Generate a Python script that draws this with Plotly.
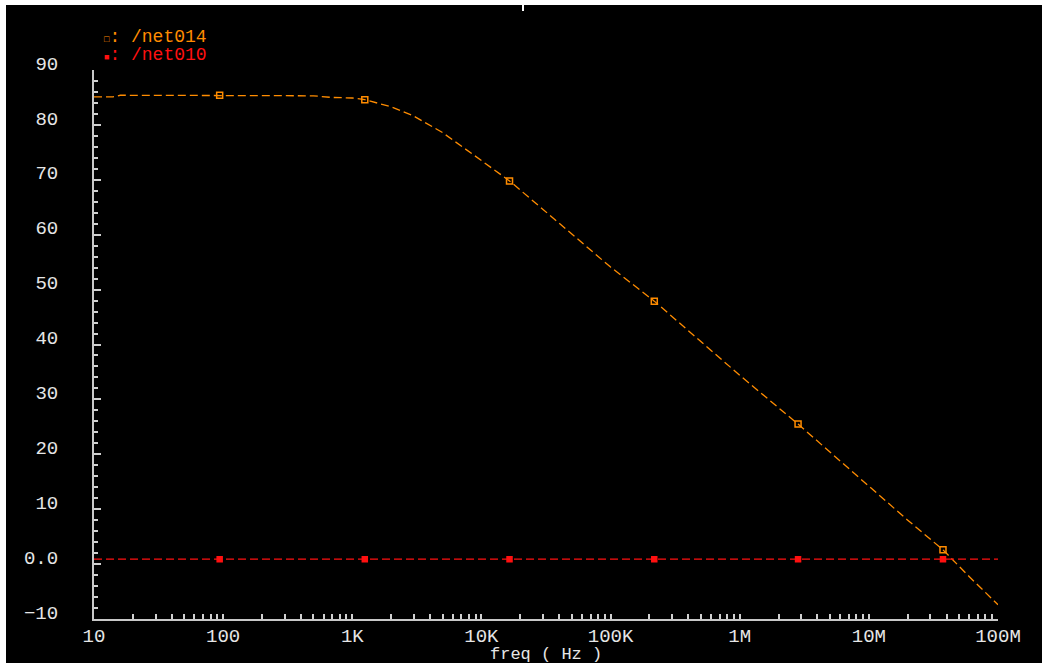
import plotly.graph_objects as go

# ---- data ----
freq_014 = [10, 14, 16, 20, 50, 94, 200, 500, 700, 1000, 1250, 2000, 3000, 5000,
            10000, 16500, 30000, 100000, 218000, 1000000, 2830000, 10000000,
            20000000, 37500000, 60000000, 100000000]
net014_db = [85.1, 85.1, 85.4, 85.4, 85.4, 85.4, 85.4, 85.3, 85.0, 84.9, 84.6, 83.3,
             81.6, 78.6, 73.5, 69.8, 64.6, 54.1, 47.9, 34.4, 25.5, 14.2,
             8.0, 2.6, -2.3, -7.4]

freq_010 = [10, 94, 1250, 16500, 218000, 2830000, 37500000, 100000000]
net010_db = [0.9, 0.9, 0.9, 0.9, 0.9, 0.9, 0.9, 0.9]

marker_freqs = [94, 1250, 16500, 218000, 2830000, 37500000]

names = ["/net014", "/net010"]
colors = ["#ff8c00", "#ff1010"]

x_tickvals = [10, 100, 1e3, 1e4, 1e5, 1e6, 1e7, 1e8]
x_ticktext = ["10", "100", "1K", "10K", "100K", "1M", "10M", "100M"]
y_tickvals = [-10, 0, 10, 20, 30, 40, 50, 60, 70, 80, 90]
y_ticktext = ["\u221210", "0.0", "10", "20", "30", "40", "50", "60", "70", "80", "90"]
x_title = "freq ( Hz )"

# ---- figure ----
W, H = 1042, 669
L, R, T, B = 94, 44, 70, 50
pw, ph = W - L - R, H - T - B

def px_to_paper(px, py):
    return (px - L) / pw, (H - B - py) / ph

fig = go.Figure()

series = [(freq_014, net014_db), (freq_010, net010_db)]
msyms = ["square-open", "square"]
msizes = [6, 5]
for (fx, fy), name, col, sym, ms in zip(series, names, colors, msyms, msizes):
    fig.add_trace(go.Scatter(x=fx, y=fy, mode="lines", name=name,
                             line=dict(color=col, width=1.3, dash="8px,4px"),
                             showlegend=False))
    mx = [f for f in fx if f in marker_freqs]
    my = [v for f, v in zip(fx, fy) if f in marker_freqs]
    fig.add_trace(go.Scatter(x=mx, y=my, mode="markers", name=name,
                             marker=dict(symbol=sym, size=ms, color=col,
                                         line=dict(color=col, width=1.5)),
                             showlegend=False))

mono = "Liberation Mono, DejaVu Sans Mono, monospace"
tick_font = dict(family=mono, size=19, color="#e6e6e6")

fig.update_xaxes(type="log", range=[1, 8], tickmode="array", tickvals=x_tickvals,
                 ticktext=x_ticktext, ticks="inside", ticklen=5, tickwidth=1.5,
                 tickcolor="#d0d0d0", showline=True, linecolor="#c8c8c8", linewidth=2,
                 showgrid=False, zeroline=False, tickfont=tick_font, ticklabelstandoff=-2,
                 minor=dict(tickvals=[m * 10 ** e for e in range(1, 8) for m in range(2, 10)],
                            ticks="inside", ticklen=5, tickwidth=1.5, tickcolor="#d0d0d0",
                            showgrid=False))
fig.update_yaxes(range=[-10, 90], tickmode="array", tickvals=y_tickvals, ticktext=y_ticktext,
                 ticks="inside", ticklen=7, tickwidth=1.5, tickcolor="#d0d0d0",
                 showline=True, linecolor="#c8c8c8", linewidth=2, showgrid=False,
                 zeroline=False, tickfont=tick_font, ticklabelstandoff=30, ticklabelshift=-7,
                 minor=dict(dtick=2, ticks="inside", ticklen=4, tickwidth=1.5,
                            tickcolor="#d0d0d0", showgrid=False))

# black panel with thin white border like the screenshot
x0, y0 = px_to_paper(6, 663)
x1, y1 = px_to_paper(W, 5)
shapes = [dict(type="rect", xref="paper", yref="paper", x0=x0, y0=y0, x1=x1, y1=y1,
               fillcolor="black", line=dict(width=0), layer="below")]
tx, ty0 = px_to_paper(523, 5)
_, ty1 = px_to_paper(523, 11)
shapes.append(dict(type="line", xref="paper", yref="paper", x0=tx, x1=tx, y0=ty0, y1=ty1,
                   line=dict(color="white", width=2)))

legend_glyphs = ["\u25a1", "\u25a0"]
annotations = []
for i, (name, col, g) in enumerate(zip(names, colors, legend_glyphs)):
    ax, ay = px_to_paper(102, 37 + 18 * i)
    annotations.append(dict(xref="paper", yref="paper", x=ax, y=ay, xanchor="left",
                            yanchor="middle", showarrow=False,
                            text=f"<span style='font-size:9px'>{g}</span>: {name}",
                            font=dict(family=mono, size=18, color=col)))

# x-axis title
axx, axy = px_to_paper(546, 654)
annotations.append(dict(xref="paper", yref="paper", x=axx, y=axy, xanchor="center",
                        yanchor="middle", showarrow=False, text=x_title,
                        font=dict(family=mono, size=17, color="#e6e6e6")))

fig.update_layout(width=W, height=H, margin=dict(l=L, r=R, t=T, b=B),
                  paper_bgcolor="white", plot_bgcolor="black",
                  shapes=shapes, annotations=annotations, showlegend=False)

fig.write_html("out.html", config={"displayModeBar": False},
               post_script="document.body.style.margin='0px';document.body.style.overflow='hidden';")
